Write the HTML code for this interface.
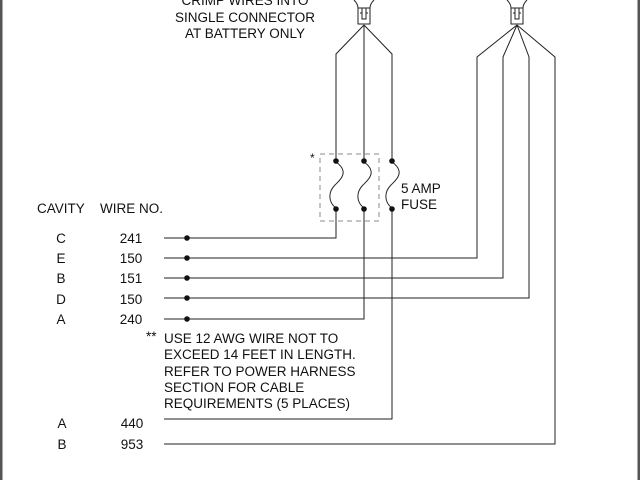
<!DOCTYPE html>
<html><head><style>
html,body{margin:0;padding:0;background:#fff;}
svg{display:block;}
text{font-family:"Liberation Sans",Arial,sans-serif;font-size:13.5px;fill:#111;}
</style></head><body>
<svg width="640" height="480" viewBox="0 0 640 480" xmlns="http://www.w3.org/2000/svg">
<rect x="0" y="0" width="2.5" height="480" fill="#555"/>
<rect x="637.5" y="0" width="2.5" height="480" fill="#555"/>
<g fill="none" stroke="#222" stroke-width="1">
<path d="M354,0 Q358,4 358,8 M374,0 Q370,4 370,8"/>
<rect x="358" y="8" width="12" height="16"/>
<path d="M362,8 V19 H366 V8 M362,13 H360 M366,13 H368"/>
<path d="M507,0 Q511,4 511,8 M527,0 Q523,4 523,8"/>
<rect x="511" y="8" width="12" height="16"/>
<path d="M515,8 V19 H519 V8 M515,13 H513 M519,13 H521"/>
<path d="M364,25 L336,54 V238 H164"/>
<path d="M364,25 V319 H164"/>
<path d="M364,25 L392,54 V419 H164"/>
<path d="M517,25 L477,57 V258 H164"/>
<path d="M517,25 L503,57 V278 H164"/>
<path d="M517,25 L529,57 V298 H164"/>
<path d="M517,25 L555,57 V444 H164"/>
</g>
<g fill="none" stroke="#fff" stroke-width="3">
<path d="M336,163 V207 M364,163 V207 M392,163 V207"/>
</g>
<g fill="none" stroke="#222" stroke-width="1">
<path d="M336,162 C350,172 340,180 335,185 C328,192 328,202 336,208"/>
<path d="M364,162 C378,172 368,180 363,185 C356,192 356,202 364,208"/>
<path d="M392,162 C406,172 396,180 391,185 C384,192 384,202 392,208"/>
<rect x="320" y="154" width="59" height="67" stroke="#888" stroke-dasharray="5,4"/>
</g>
<g fill="#111">
<circle cx="336" cy="161" r="2.8"/><circle cx="364" cy="161" r="2.8"/><circle cx="392" cy="161" r="2.8"/>
<circle cx="336" cy="209" r="2.8"/><circle cx="364" cy="209" r="2.8"/><circle cx="392" cy="209" r="2.8"/>
<circle cx="187" cy="238" r="2.8"/><circle cx="187" cy="258" r="2.8"/><circle cx="187" cy="278" r="2.8"/><circle cx="187" cy="298" r="2.8"/><circle cx="187" cy="319" r="2.8"/>
</g>
<text x="310" y="162" style="font-size:12px">*</text>
<text x="401" y="193">5 AMP</text>
<text x="401" y="209">FUSE</text>
<g text-anchor="middle">
<text x="245" y="5">CRIMP WIRES INTO</text>
<text x="245" y="22">SINGLE CONNECTOR</text>
<text x="245" y="38">AT BATTERY ONLY</text>
</g>
<text x="37" y="213">CAVITY</text>
<text x="100" y="213">WIRE NO.</text>
<g text-anchor="middle">
<text x="61" y="243">C</text><text x="61" y="263">E</text><text x="61" y="283">B</text><text x="61" y="304">D</text><text x="61" y="324">A</text>
<text x="62" y="428">A</text><text x="62" y="449">B</text>
<text x="131" y="243">241</text><text x="131" y="263">150</text><text x="131" y="283">151</text><text x="131" y="304">150</text><text x="131" y="324">240</text>
<text x="132" y="428">440</text><text x="132" y="449">953</text>
</g>
<text x="146" y="341">**</text>
<text x="164" y="343">USE 12 AWG WIRE NOT TO</text>
<text x="164" y="359">EXCEED 14 FEET IN LENGTH.</text>
<text x="164" y="376">REFER TO POWER HARNESS</text>
<text x="164" y="392">SECTION FOR CABLE</text>
<text x="164" y="408">REQUIREMENTS (5 PLACES)</text>
</svg>
</body></html>
